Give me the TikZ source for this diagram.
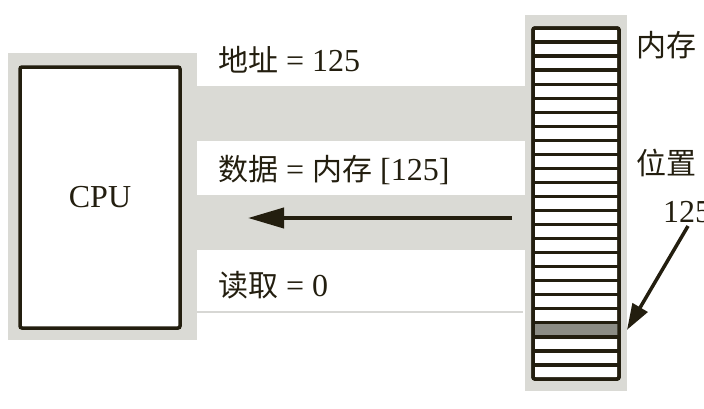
\documentclass[tikz,border=0pt]{standalone}
\usepackage{fontspec}
\setmainfont{Liberation Serif}
\newfontfamily\cjk{Noto Sans CJK SC}
\usetikzlibrary{arrows.meta}
\definecolor{bggrey}{RGB}{218,218,213}
\definecolor{ink}{RGB}{35,30,15}
\definecolor{slotgrey}{RGB}{140,140,132}
\definecolor{thinline}{RGB}{215,215,212}
\tikzset{
  panel/.style={fill=bggrey, draw=none, inner sep=0pt},
  box/.style={draw=ink, line width=3.5pt, fill=white, rounded corners=2pt, inner sep=0pt},
  lbl/.style={font=\fontsize{32}{38}\selectfont, inner sep=0pt, text=ink},
  bigarrow/.style={draw=ink, line width=4pt, -{Triangle[length=36pt,width=20pt]}},
  ptrarrow/.style={draw=ink, line width=3.5pt, -{Triangle[length=26pt,width=17pt]}},
}
\newcommand{\zh}[1]{{\cjk\fontsize{30}{36}\selectfont #1}}
\begin{document}
\begin{tikzpicture}[x=1pt,y=-1pt]
\useasboundingbox (0,0) rectangle (704,408);
% background panels
\fill[bggrey] (8,53) rectangle (197,340);
\fill[bggrey] (525,15) rectangle (627,391);
\fill[bggrey] (197,86) rectangle (525,141);
\fill[bggrey] (197,195) rectangle (525,250);
\draw[thinline, line width=2pt] (197,312) -- (523,312);
% CPU
\node[box, minimum width=160pt, minimum height=261pt, lbl] (cpu) at (100,197.5) {CPU};
% memory
\node[box, minimum width=86pt, minimum height=351pt] (mem) at (576,203.5) {};
\node[fill=slotgrey, minimum width=84pt, minimum height=14pt, inner sep=0pt] (slot) at (576,{28+21.5*14.04}) {};
\foreach \i in {1,...,24} {
  \draw[ink, line width=3.3pt] (533,{28+\i*14.04}) -- (619,{28+\i*14.04});
}
\draw[box, fill=none] (533,28) rectangle (619,379);
% bus labels
\node[lbl, anchor=west] (addr) at (218,60) {\zh{地址} = 125};
\node[lbl, anchor=west] (data) at (218,170) {\zh{数据} = \zh{内存} [125]};
\node[lbl, anchor=west] (rd) at (218,285) {\zh{读取} = 0};
% memory labels
\node[lbl, anchor=west] (memlbl) at (636,45) {\zh{内存}};
\node[lbl, anchor=west] (poslbl) at (636,163) {\zh{位置}};
\node[lbl, anchor=west] (posnum) at (663,212) {125};
% arrows
\coordinate (dstart) at (512,218);
\coordinate (dend) at (248,218);
\draw[bigarrow] (dstart) -- (dend);
\coordinate (pstart) at (688,226);
\draw[ptrarrow] (pstart) -- (slot.east -| 627,323);
\end{tikzpicture}
\end{document}
